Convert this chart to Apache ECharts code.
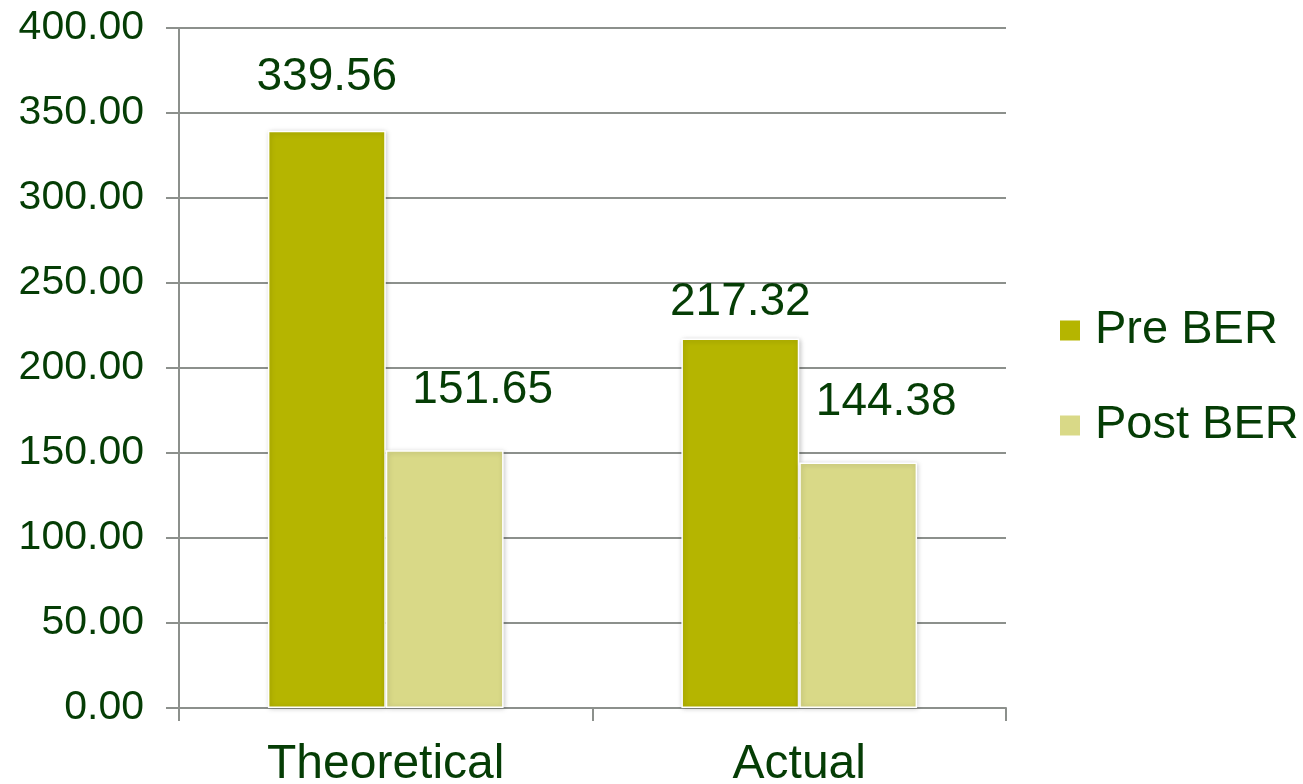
<!DOCTYPE html>
<html>
<head>
<meta charset="utf-8">
<script src="https://cdn.jsdelivr.net/npm/echarts@6/dist/echarts.min.js"></script>
<style>
  html, body { margin: 0; padding: 0; background: #ffffff; }
  #chart { width: 1303px; height: 784px; }
</style>
</head>
<body>
<div id="chart"></div>
<script>
// Building energy rating before and after, theoretical vs actual
const categories = ['Theoretical', 'Actual'];
const preBER = [339.56, 217.32];
const postBER = [151.65, 144.38];
const seriesNames = ['Pre BER', 'Post BER'];

// Label placement per bar: [horizontal shift, gap above bar]
const preLabelPlace = [[0, 30], [0, 13]];
const postLabelPlace = [[38, 37], [28, 37]];

const FONT = "'Liberation Sans', Arial, sans-serif";
const TEXT = '#053d05';
const GRID = '#8c908c';

function withLabels(values, place) {
  return values.map((v, i) => ({
    value: v,
    label: { distance: place[i][1], offset: [place[i][0], 0] }
  }));
}

const barStyle = (color) => ({
  color: color,
  borderColor: '#ffffff',
  borderWidth: 1.5,
  shadowBlur: 5,
  shadowColor: 'rgba(0,0,0,0.22)',
  shadowOffsetX: 1,
  shadowOffsetY: 1
});

const labelStyle = {
  show: true,
  position: 'top',
  color: TEXT,
  fontFamily: FONT,
  fontSize: 46,
  formatter: (p) => p.value.toFixed(2)
};

const chart = echarts.init(document.getElementById('chart'));
chart.setOption({
  animation: false,
  textStyle: { fontFamily: FONT },
  grid: {
    left: 179, right: 297, top: 28, bottom: 76,
    containLabel: false,
    outerBoundsMode: 'none'
  },
  legend: {
    orient: 'vertical',
    left: 1058,
    top: 307,
    padding: 0,
    icon: 'rect',
    itemWidth: 22,
    itemHeight: 22,
    itemGap: 48,
    data: seriesNames,
    textStyle: { color: TEXT, fontFamily: FONT, fontSize: 47, padding: [0, 0, 0, 9] }
  },
  xAxis: {
    type: 'category',
    data: categories,
    axisLine: { lineStyle: { color: GRID, width: 2 } },
    axisTick: { show: true, length: 13, lineStyle: { color: GRID, width: 2 } },
    axisLabel: { color: TEXT, fontFamily: FONT, fontSize: 48, margin: 33 }
  },
  yAxis: {
    type: 'value',
    min: 0,
    max: 400,
    interval: 50,
    axisLine: { show: true, lineStyle: { color: GRID, width: 2 } },
    axisTick: { show: true, length: 13, lineStyle: { color: GRID, width: 2 } },
    splitLine: { lineStyle: { color: GRID, width: 2 } },
    axisLabel: {
      color: TEXT, fontFamily: FONT, fontSize: 41, margin: 35,
      formatter: (v) => v.toFixed(2)
    }
  },
  series: [
    {
      name: seriesNames[0],
      type: 'bar',
      barWidth: '28.5%',
      barGap: '0%',
      itemStyle: barStyle('#b5b500'),
      label: labelStyle,
      data: withLabels(preBER, preLabelPlace)
    },
    {
      name: seriesNames[1],
      type: 'bar',
      barWidth: '28.5%',
      barGap: '0%',
      itemStyle: barStyle('#d9d987'),
      label: labelStyle,
      data: withLabels(postBER, postLabelPlace)
    }
  ]
});
</script>
</body>
</html>
